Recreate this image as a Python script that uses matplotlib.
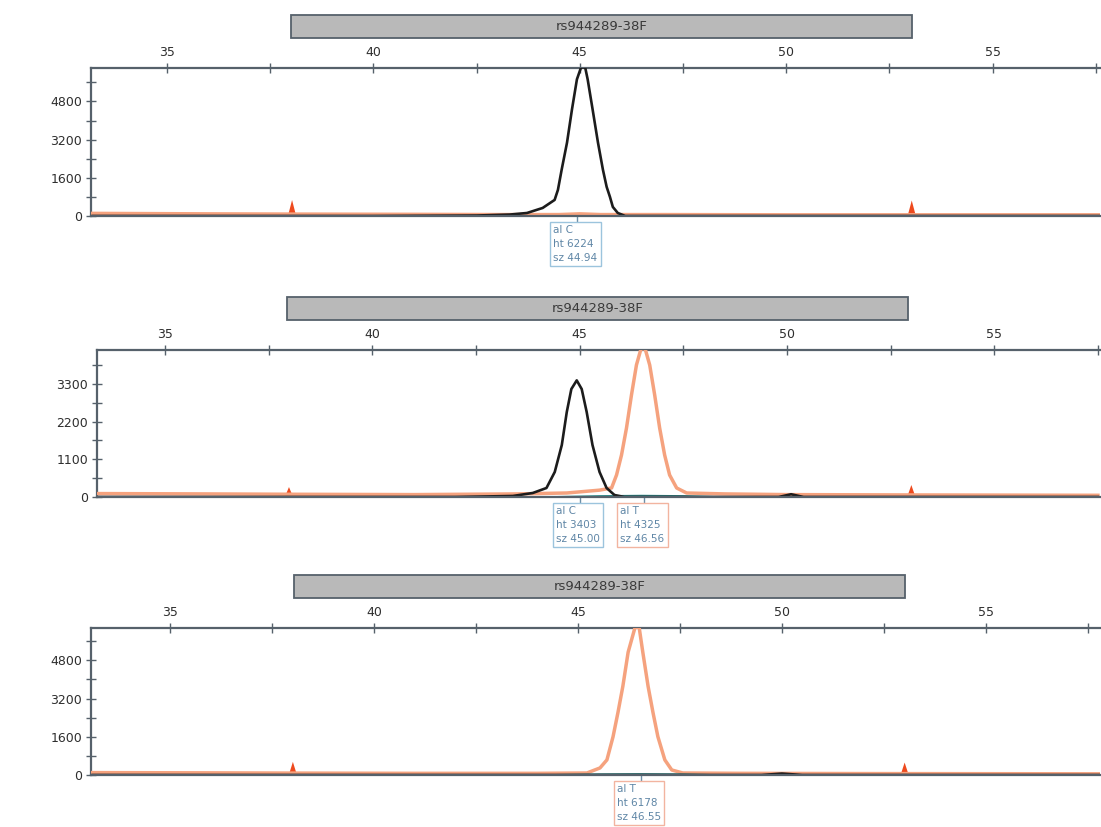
import matplotlib
matplotlib.use("Agg")
import matplotlib.pyplot as plt
from matplotlib.patches import Rectangle
from matplotlib.ticker import MultipleLocator

plt.rcParams["font.family"] = ["DejaVu Sans"]

marker_name = "rs944289-38F"

# 各パネルのデータ (サイズ bp, 蛍光強度 RFU)
# 上段: ホモ C
top_black_x = [33.2, 40.0, 42.5, 43.3, 43.72, 44.10, 44.39, 44.47, 44.56, 44.69, 44.81, 44.93,
               45.03, 45.13, 45.19, 45.31, 45.44, 45.56, 45.65, 45.73, 45.80, 45.92, 46.10, 57.6]
top_black_y = [0, 0, 20, 60, 126, 337, 674, 1095, 1937, 3074, 4463, 5726,
               6224, 6224, 5726, 4463, 3074, 1937, 1221, 800, 379, 126, 0, 0]
top_orange_x = [33.2, 36.0, 38.0, 41.0, 43.0, 44.5, 45.0, 45.5, 47.0, 50.0, 53.0, 57.6]
top_orange_y = [110, 90, 80, 70, 60, 60, 90, 60, 60, 50, 50, 50]

# 中段: ヘテロ C/T
mid_black_x = [33.4, 42.0, 43.39, 43.87, 44.20, 44.40, 44.57, 44.69, 44.80, 44.93, 45.05, 45.17,
               45.31, 45.48, 45.65, 45.84, 46.08, 49.8, 50.1, 50.4, 57.5]
mid_black_y = [0, 0, 30, 117, 263, 730, 1517, 2480, 3150, 3403, 3150, 2480,
               1517, 730, 263, 58, 0, 0, 80, 0, 0]
mid_orange_x = [33.4, 36.0, 38.0, 41.0, 43.5, 44.69, 45.48, 45.77, 45.89, 46.01, 46.13, 46.25,
                46.37, 46.48, 46.58, 46.69, 46.81, 46.93, 47.05, 47.17, 47.34, 47.58, 48.5,
                50.0, 53.0, 57.5]
mid_orange_y = [100, 90, 80, 70, 90, 117, 200, 263, 642, 1226, 2013, 2976,
                3852, 4325, 4325, 3852, 2976, 2013, 1226, 642, 263, 117, 90,
                70, 60, 50]

# 下段: ホモ T
bot_black_x = [33.1, 49.5, 50.0, 50.5, 57.8]
bot_black_y = [0, 0, 60, 0, 0]
bot_orange_x = [33.1, 36.0, 38.0, 41.0, 44.0, 45.22, 45.54, 45.71, 45.86, 45.98, 46.10, 46.23,
                46.40, 46.50, 46.59, 46.72, 46.84, 46.96, 47.13, 47.30, 47.57, 49.0, 52.0, 57.8]
bot_orange_y = [100, 90, 80, 70, 70, 84, 295, 632, 1600, 2610, 3705, 5137,
                6178, 6178, 5137, 3705, 2610, 1600, 632, 210, 84, 70, 60, 50]
green_x = [44.5, 45.5, 46.5, 47.5, 48.2]
green_y = [0, 25, 35, 25, 0]

# サイズスタンダード (赤) のピーク
top_spike_x, top_spike_h = [38.03, 53.04], [670, 650]
mid_spike_x, mid_spike_h = [37.99, 53.00], [290, 350]
bot_spike_x, bot_spike_h = [38.01, 53.01], [550, 520]

# ビン (灰色バー) の範囲
top_bin = [38.00, 53.04]
mid_bin = [37.94, 52.93]
bot_bin = [38.04, 53.01]

# ピークラベル
top_calls = [("C", 6224, 44.94)]
mid_calls = [("C", 3403, 45.00), ("T", 4325, 46.56)]
bot_calls = [("T", 6178, 46.55)]

xlims = [(33.16, 57.6), (33.36, 57.55), (33.06, 57.8)]
ylims = [6200, 4290, 6150]
ystep = [1600, 1100, 1600]

panels = [
    (top_black_x, top_black_y, top_orange_x, top_orange_y, None, top_spike_x, top_spike_h, top_bin, top_calls),
    (mid_black_x, mid_black_y, mid_orange_x, mid_orange_y, (green_x, green_y), mid_spike_x, mid_spike_h, mid_bin, mid_calls),
    (bot_black_x, bot_black_y, bot_orange_x, bot_orange_y, (green_x, green_y), bot_spike_x, bot_spike_h, bot_bin, bot_calls),
]
positions = [
    [91 / 1101, 1 - 216 / 827, 1009 / 1101, 148 / 827],
    [97 / 1101, 1 - 497 / 827, 1003 / 1101, 147 / 827],
    [91 / 1101, 1 - 775 / 827, 1009 / 1101, 147 / 827],
]

spine_c = "#56616b"
fig = plt.figure(figsize=(11.01, 8.27), dpi=100)

for i, (bx, by, ox, oy, gr, sx, sh, bin_rng, calls) in enumerate(panels):
    ax = fig.add_axes(positions[i])
    ax.set_xlim(*xlims[i])
    ax.set_ylim(0, ylims[i])

    # 赤のサイズスタンダード
    for x0, h in zip(sx, sh):
        ax.fill([x0 - 0.1, x0, x0 + 0.1], [0, h, 0], color="#ee4a1e", lw=0, zorder=2)
    ax.plot(ox, oy, color="#f5a27e", lw=2.5, zorder=3, solid_joinstyle="round")
    if gr is not None:
        ax.plot(gr[0], gr[1], color="#2a8a8a", lw=1.5, zorder=3)
    ax.plot(bx, by, color="#1c1c1c", lw=1.9, zorder=4, solid_joinstyle="round")

    # 軸
    ax.xaxis.tick_top()
    ax.xaxis.set_major_locator(MultipleLocator(5))
    ax.xaxis.set_minor_locator(MultipleLocator(2.5))
    ax.yaxis.set_major_locator(MultipleLocator(ystep[i]))
    ax.yaxis.set_minor_locator(MultipleLocator(ystep[i] / 2))
    ax.tick_params(which="both", direction="inout", length=7, width=1, color=spine_c,
                   labelsize=9, labelcolor="#2e2e2e", pad=3)
    ax.tick_params(axis="y", which="both", right=False)
    ax.spines["right"].set_visible(False)
    for s in ["top", "left", "bottom"]:
        ax.spines[s].set_color(spine_c)
        ax.spines[s].set_linewidth(1.6)
    ax.spines["bottom"].set_zorder(5)

    # ビンのバー
    trans = ax.get_xaxis_transform()
    ax.add_patch(Rectangle((bin_rng[0], 1.203), bin_rng[1] - bin_rng[0], 0.155,
                           transform=trans, clip_on=False, fc="#b9b9b9", ec=spine_c, lw=1.3))
    ax.text((bin_rng[0] + bin_rng[1]) / 2, 1.282, marker_name, transform=trans,
            ha="center", va="center", fontsize=9.5, color="#3a3a3a")

    # ピークラベル
    for allele, ht, sz in calls:
        edge = "#9cc4dd" if allele == "C" else "#f2b4a0"
        ax.plot([sz, sz], [0, -0.04], transform=trans, color="#6c8fa8", lw=1, clip_on=False)
        ax.annotate(f"al {allele}\nht {ht}\nsz {sz:.2f}", xy=(sz, 0), xycoords=trans,
                    xytext=(-24, -9), textcoords="offset pixels", ha="left", va="top",
                    fontsize=7.5, color="#5f86a6", linespacing=1.5, annotation_clip=False,
                    bbox=dict(boxstyle="square,pad=0.3", fc="white", ec=edge, lw=1))

fig.savefig("out.png", dpi=100)
plt.close(fig)
